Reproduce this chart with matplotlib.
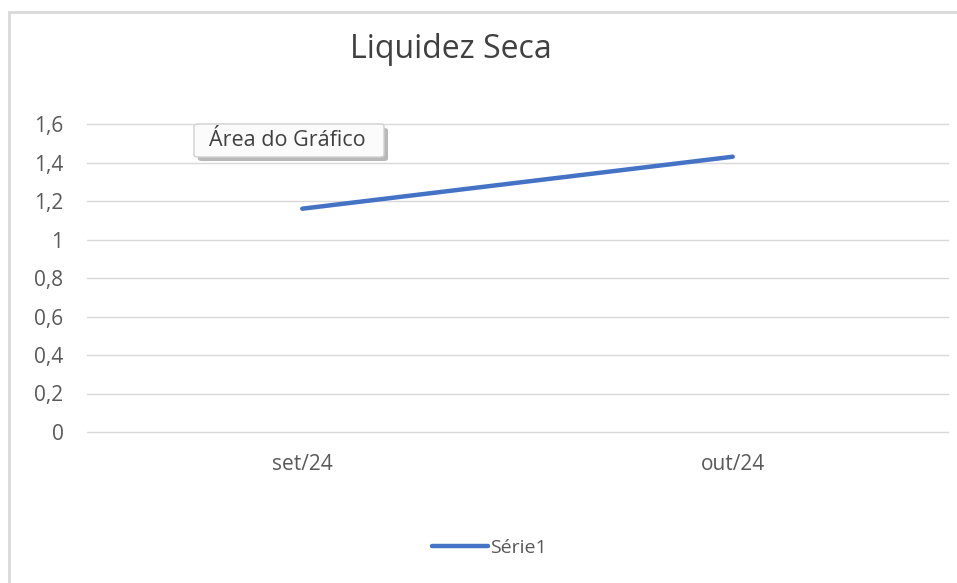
import matplotlib.pyplot as plt
from matplotlib.patches import FancyBboxPatch, Rectangle

plt.rcParams['font.family'] = ['Open Sans', 'DejaVu Sans']

# dados
categorias = ['set/24', 'out/24']
valores = [1.16, 1.43]
y_ticks = [0, 0.2, 0.4, 0.6, 0.8, 1.0, 1.2, 1.4, 1.6]
y_labels = ['0', '0,2', '0,4', '0,6', '0,8', '1', '1,2', '1,4', '1,6']

W, H = 957, 583
fig = plt.figure(figsize=(W / 100, H / 100), dpi=100)

# borda da área do gráfico
fig.patches.append(Rectangle((9 / W, -0.05), 1.1, 1 - 12 / H + 0.05, transform=fig.transFigure,
                             fill=False, edgecolor='#d9d9d9', linewidth=2))

ax = fig.add_axes([87 / W, 1 - 432 / H, (948 - 87) / W, (432 - 124) / H])
x = range(len(categorias))
ax.plot(x, valores, color='#4472C4', linewidth=3.2, solid_capstyle='round', label='Série1', zorder=3)

ax.set_xlim(-0.5, len(categorias) - 0.5)
ax.set_ylim(0, 1.6)
ax.set_yticks(y_ticks)
ax.set_yticklabels(y_labels)
ax.set_xticks(list(x))
ax.set_xticklabels(categorias)
ax.grid(axis='y', color='#d9d9d9', linewidth=1)
for gl in ax.get_ygridlines():
    gl.set_clip_on(False)
ax.set_axisbelow(True)
for s in ax.spines.values():
    s.set_visible(False)
ax.tick_params(length=0, labelsize=15, colors='#595959')
ax.tick_params(axis='y', pad=17)
ax.tick_params(axis='x', pad=16)

fig.text(451 / W, 1 - 50 / H, 'Liquidez Seca', ha='center', va='center', fontsize=23, color='#404040')

leg = fig.legend(loc='center', bbox_to_anchor=(489 / W, 1 - 548 / H), frameon=False,
                 fontsize=14, handlelength=2.9, handletextpad=0.1)
for t in leg.get_texts():
    t.set_color('#595959')

# dica "Área do Gráfico"
fig.patches.append(FancyBboxPatch((198 / W, 1 - 161 / H), 190 / W, 33 / H, transform=fig.transFigure,
                                  boxstyle='round,pad=0,rounding_size=0.004', facecolor='#9a9a9a',
                                  edgecolor='none', alpha=0.7, zorder=5))
fig.patches.append(FancyBboxPatch((194 / W, 1 - 157 / H), 190 / W, 33 / H, transform=fig.transFigure,
                                  boxstyle='round,pad=0,rounding_size=0.004', facecolor='#fbfbfb',
                                  edgecolor='#d0d0d0', linewidth=1, zorder=6))
fig.text(287 / W, 1 - 140 / H, 'Área do Gráfico', ha='center', va='center', fontsize=15.5,
         color='#404040', zorder=7)

fig.savefig('out.png', dpi=100)
